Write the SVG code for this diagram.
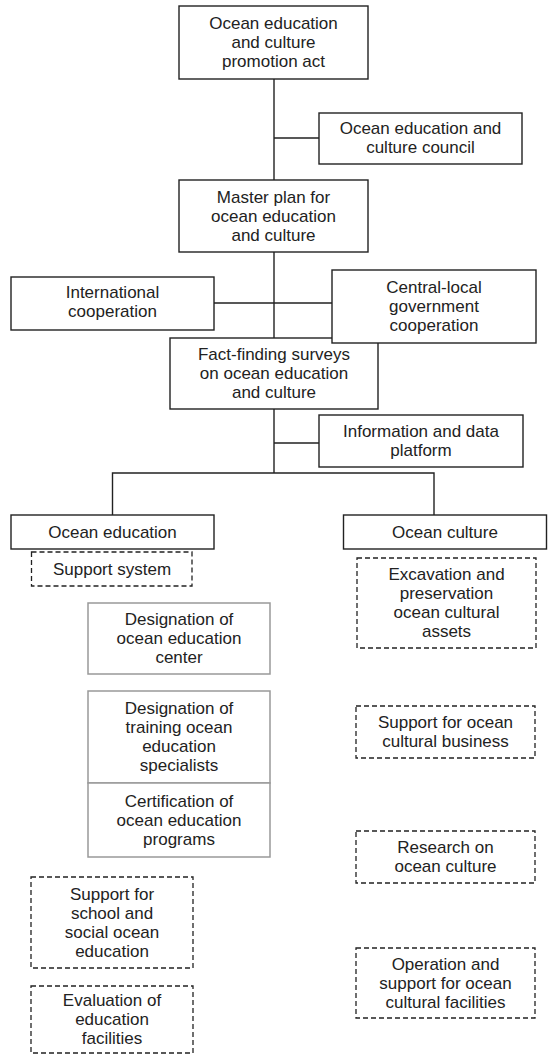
<svg xmlns="http://www.w3.org/2000/svg" width="548" height="1057" viewBox="0 0 548 1057">
<style>
.s{fill:#fff;stroke:#222;stroke-width:1.4}
.d{fill:#fff;stroke:#222;stroke-width:1.3;stroke-dasharray:5 3}
.g{fill:#fff;stroke:#999;stroke-width:1.5}
text{font-family:"Liberation Sans",Arial,sans-serif;font-size:17px;fill:#222;text-anchor:middle}
.c{fill:none;stroke:#222;stroke-width:1.4}
</style>
<rect width="548" height="1057" fill="#fff"/>
<g id="connectors">
<path class="c" d="M274 79V473M274 138H319M214 303H332M274 443H319M112.5 515V473H434V515"/>
</g>
<g id="n1"><rect class="s" x="179" y="6" width="189" height="73"/>
<text x="273.5" y="29">Ocean education</text><text x="273.5" y="48">and culture</text><text x="273.5" y="67">promotion act</text></g>
<g id="n2"><rect class="s" x="319" y="113" width="203" height="51"/>
<text x="420.5" y="134">Ocean education and</text><text x="420.5" y="153">culture council</text></g>
<g id="n3"><rect class="s" x="179" y="180" width="189" height="72"/>
<text x="273.5" y="203">Master plan for</text><text x="273.5" y="222">ocean education</text><text x="273.5" y="241">and culture</text></g>
<g id="n4"><rect class="s" x="11" y="277" width="203" height="53"/>
<text x="112.5" y="298">International</text><text x="112.5" y="317">cooperation</text></g>
<g id="n6"><rect class="s" x="170" y="338" width="208" height="71"/>
<text x="274" y="360">Fact-finding surveys</text><text x="274" y="379">on ocean education</text><text x="274" y="398">and culture</text></g>
<g id="n5"><rect class="s" x="332" y="270" width="204" height="73"/>
<text x="434" y="293">Central-local</text><text x="434" y="312">government</text><text x="434" y="331">cooperation</text></g>
<g id="n7"><rect class="s" x="319" y="415" width="204" height="52"/>
<text x="421" y="437">Information and data</text><text x="421" y="456">platform</text></g>
<g id="n8"><rect class="s" x="11" y="515" width="203" height="34"/>
<text x="112.5" y="537.5">Ocean education</text></g>
<g id="n9"><rect class="s" x="343.5" y="515" width="203" height="34"/>
<text x="445" y="537.5">Ocean culture</text></g>
<g id="n10"><rect class="d" x="31.5" y="552" width="160.5" height="34"/>
<text x="112" y="574.5">Support system</text></g>
<g id="n11"><rect class="g" x="88" y="603" width="182" height="71"/>
<text x="179" y="625">Designation of</text><text x="179" y="644">ocean education</text><text x="179" y="663">center</text></g>
<g id="n12"><rect class="g" x="88" y="691" width="182" height="92"/>
<text x="179" y="714">Designation of</text><text x="179" y="733">training ocean</text><text x="179" y="752">education</text><text x="179" y="771">specialists</text></g>
<g id="n13"><rect class="g" x="88" y="783" width="182" height="74"/>
<text x="179" y="806.5">Certification of</text><text x="179" y="825.5">ocean education</text><text x="179" y="844.5">programs</text></g>
<g id="n14"><rect class="d" x="31" y="877" width="162" height="91"/>
<text x="112" y="899.5">Support for</text><text x="112" y="918.5">school and</text><text x="112" y="937.5">social ocean</text><text x="112" y="956.5">education</text></g>
<g id="n15"><rect class="d" x="31" y="986" width="162" height="67"/>
<text x="112" y="1006">Evaluation of</text><text x="112" y="1025">education</text><text x="112" y="1044">facilities</text></g>
<g id="n16"><rect class="d" x="357" y="558" width="179" height="90"/>
<text x="446.5" y="580">Excavation and</text><text x="446.5" y="599">preservation</text><text x="446.5" y="618">ocean cultural</text><text x="446.5" y="637">assets</text></g>
<g id="n17"><rect class="d" x="356" y="706" width="179" height="52"/>
<text x="445.5" y="727.5">Support for ocean</text><text x="445.5" y="746.5">cultural business</text></g>
<g id="n18"><rect class="d" x="356" y="831" width="179" height="52"/>
<text x="445.5" y="852.5">Research on</text><text x="445.5" y="871.5">ocean culture</text></g>
<g id="n19"><rect class="d" x="356" y="948" width="179" height="70"/>
<text x="445.5" y="969.5">Operation and</text><text x="445.5" y="988.5">support for ocean</text><text x="445.5" y="1007.5">cultural facilities</text></g>
</svg>
